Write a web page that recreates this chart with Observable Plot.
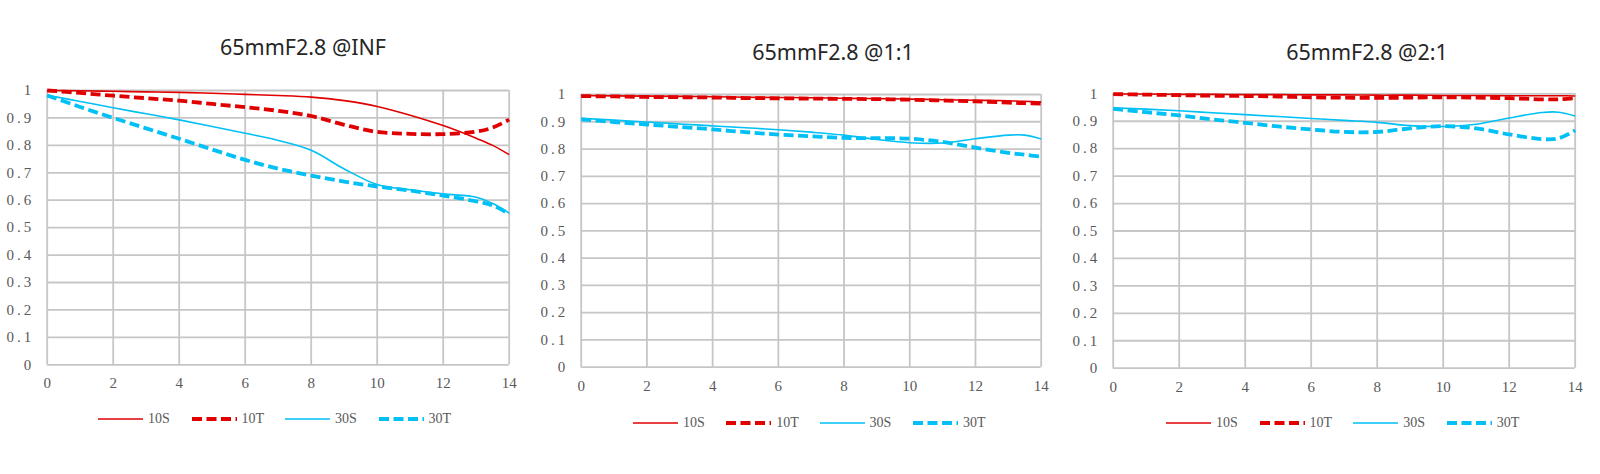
<!DOCTYPE html>
<html>
<head>
<meta charset="utf-8">
<script src="https://cdn.jsdelivr.net/npm/d3@7"></script>
<script src="https://cdn.jsdelivr.net/npm/@observablehq/plot@0.6"></script>
<style>
  html, body { margin: 0; padding: 0; background: #fff; }
  #root { position: relative; width: 1600px; height: 474px; overflow: hidden; background: #fff; }
  .title { position: absolute; width: 400px; text-align: center; font-family: "Noto Sans", "Open Sans", sans-serif; font-size: 21.5px; color: #262626; line-height: 30px; }
  .panel { position: absolute; }
  .leg { position: absolute; font-family: "Liberation Serif", "DejaVu Serif", serif; font-size: 14px; color: #595959; line-height: 16px; }
  .legsvg { position: absolute; }
</style>
</head>
<body>
<div id="root"></div>
<script>
// ---- data ----
const fieldX = [0, 1, 2, 3, 4, 5, 6, 7, 8, 9, 10, 11, 12, 13, 13.5, 14];
const xTicks = [0, 2, 4, 6, 8, 10, 12, 14];
const yTicks = [0, 0.1, 0.2, 0.3, 0.4, 0.5, 0.6, 0.7, 0.8, 0.9, 1];
const seriesNames = ["10S", "10T", "30S", "30T"];
const titles = ["65mmF2.8 @INF", "65mmF2.8 @1:1", "65mmF2.8 @2:1"];

// @INF
const inf10S = [1.0, 0.999, 0.997, 0.995, 0.993, 0.990, 0.986, 0.982, 0.976, 0.963, 0.942, 0.910, 0.872, 0.826, 0.800, 0.766];
const inf10T = [1.0, 0.991, 0.981, 0.972, 0.963, 0.951, 0.939, 0.926, 0.907, 0.875, 0.849, 0.842, 0.841, 0.850, 0.865, 0.894];
const inf30S = [0.983, 0.960, 0.937, 0.915, 0.893, 0.869, 0.844, 0.818, 0.782, 0.714, 0.657, 0.638, 0.623, 0.611, 0.588, 0.553];
const inf30T = [0.982, 0.940, 0.900, 0.862, 0.824, 0.785, 0.747, 0.715, 0.690, 0.668, 0.650, 0.635, 0.617, 0.596, 0.581, 0.550];
// @1:1
const m1_10S = [0.996, 0.995, 0.994, 0.993, 0.992, 0.990, 0.989, 0.988, 0.986, 0.985, 0.983, 0.981, 0.979, 0.977, 0.975, 0.972];
const m1_10T = [0.994, 0.993, 0.991, 0.990, 0.989, 0.987, 0.986, 0.985, 0.984, 0.983, 0.981, 0.978, 0.975, 0.970, 0.968, 0.967];
const m1_30S = [0.913, 0.906, 0.899, 0.892, 0.885, 0.878, 0.871, 0.862, 0.851, 0.835, 0.823, 0.822, 0.838, 0.851, 0.851, 0.837];
const m1_30T = [0.909, 0.899, 0.890, 0.881, 0.872, 0.862, 0.853, 0.847, 0.841, 0.840, 0.838, 0.826, 0.805, 0.786, 0.779, 0.772];
// @2:1
const m2_10S = [0.999, 0.999, 0.998, 0.998, 0.997, 0.997, 0.996, 0.996, 0.995, 0.995, 0.994, 0.994, 0.993, 0.993, 0.993, 0.992];
const m2_10T = [0.999, 0.997, 0.995, 0.993, 0.992, 0.990, 0.987, 0.986, 0.985, 0.986, 0.987, 0.986, 0.984, 0.980, 0.980, 0.984];
const m2_30S = [0.949, 0.944, 0.938, 0.931, 0.924, 0.917, 0.910, 0.903, 0.896, 0.884, 0.881, 0.889, 0.912, 0.932, 0.933, 0.919];
const m2_30T = [0.945, 0.933, 0.921, 0.907, 0.894, 0.881, 0.870, 0.861, 0.861, 0.874, 0.882, 0.874, 0.852, 0.835, 0.838, 0.867];

const panelSeries = [
  [inf10S, inf10T, inf30S, inf30T],
  [m1_10S, m1_10T, m1_30S, m1_30T],
  [m2_10S, m2_10T, m2_30S, m2_30T]
];

// ---- styles ----
const RED = "#e00000";
const CYAN = "#00c0f5";
const GRID = "#c6c6c6";
const seriesStyle = {
  "10S": {stroke: RED, strokeWidth: 1.6, dash: null},
  "10T": {stroke: RED, strokeWidth: 3.8, dash: "10,4.5"},
  "30S": {stroke: CYAN, strokeWidth: 1.6, dash: null},
  "30T": {stroke: CYAN, strokeWidth: 3.8, dash: "10,4.5"}
};

// layout per panel
const layouts = [
  {left: 0,    top: 70, width: 530, mL: 46.7, mR: 21.3, mT: 20,   plotH: 274.3, titleCX: 303,  titleCY: 47, legX: 98,   legY: 419, legStep: 93.5},
  {left: 530,  top: 70, width: 530, mL: 50.7, mR: 19.3, mT: 24,   plotH: 272.7, titleCX: 833,  titleCY: 52, legX: 633,  legY: 423, legStep: 93.3},
  {left: 1060, top: 70, width: 540, mL: 52.7, mR: 25.3, mT: 23.3, plotH: 274.4, titleCX: 1367, titleCY: 52, legX: 1166, legY: 423, legStep: 93.6}
];

const root = document.getElementById("root");

layouts.forEach((L, pi) => {
  const data = [];
  seriesNames.forEach((name, si) => {
    panelSeries[pi][si].forEach((v, i) => data.push({x: fieldX[i], v, s: name}));
  });
  const mB = 35;
  const height = L.mT + L.plotH + mB;
  const lineMarks = seriesNames.map(name => {
    const st = seriesStyle[name];
    const o = {x: "x", y: "v", stroke: st.stroke, strokeWidth: st.strokeWidth, curve: "catmull-rom", strokeLinecap: "butt", strokeLinejoin: "round"};
    if (st.dash) o.strokeDasharray = st.dash;
    return Plot.line(data.filter(d => d.s === name), o);
  });
  const svg = Plot.plot({
    width: L.width,
    height,
    marginLeft: L.mL,
    marginRight: L.mR,
    marginTop: L.mT,
    marginBottom: mB,
    style: {fontFamily: "'Liberation Serif', 'DejaVu Serif', serif", fontSize: "15px", color: "#595959", background: "transparent", overflow: "visible"},
    x: {domain: [0, 14], label: null},
    y: {domain: [0, 1], label: null},
    marks: [
      Plot.ruleX(xTicks, {x: d => d, stroke: GRID, strokeWidth: 1.8}),
      Plot.ruleY(yTicks, {y: d => d, stroke: GRID, strokeWidth: 1.8}),
      ...lineMarks,
      Plot.axisX({ticks: xTicks, tickSize: 0, tickPadding: 13, label: null, tickFormat: d => String(d)}),
      Plot.axisY({ticks: yTicks, tickSize: 0, tickPadding: 13, label: null, tickFormat: d => d === 0 ? "0" : d === 1 ? "1" : d.toFixed(1)})
    ]
  });
  d3.select(svg).selectAll('g[aria-label="y-axis tick label"] text').attr("letter-spacing", "3px");
  const wrap = document.createElement("div");
  wrap.className = "panel";
  wrap.style.left = L.left + "px";
  wrap.style.top = L.top + "px";
  wrap.appendChild(svg);
  root.appendChild(wrap);

  // title
  const t = document.createElement("div");
  t.className = "title";
  t.textContent = titles[pi];
  t.style.left = (L.titleCX - 200) + "px";
  t.style.top = (L.titleCY - 15) + "px";
  root.appendChild(t);

  // legend
  seriesNames.forEach((name, si) => {
    const st = seriesStyle[name];
    const x0 = L.legX + si * L.legStep;
    const ns = "http://www.w3.org/2000/svg";
    const s = document.createElementNS(ns, "svg");
    s.setAttribute("class", "legsvg");
    s.setAttribute("width", 46);
    s.setAttribute("height", 10);
    s.style.left = x0 + "px";
    s.style.top = (L.legY - 5) + "px";
    const ln = document.createElementNS(ns, "line");
    ln.setAttribute("x1", 0); ln.setAttribute("x2", 45);
    ln.setAttribute("y1", 5); ln.setAttribute("y2", 5);
    ln.setAttribute("stroke", st.stroke);
    ln.setAttribute("stroke-width", st.strokeWidth);
    if (st.dash) ln.setAttribute("stroke-dasharray", st.dash);
    s.appendChild(ln);
    root.appendChild(s);
    const tx = document.createElement("div");
    tx.className = "leg";
    tx.textContent = name;
    tx.style.left = (x0 + 50) + "px";
    tx.style.top = (L.legY - 8) + "px";
    root.appendChild(tx);
  });
});
</script>
</body>
</html>
